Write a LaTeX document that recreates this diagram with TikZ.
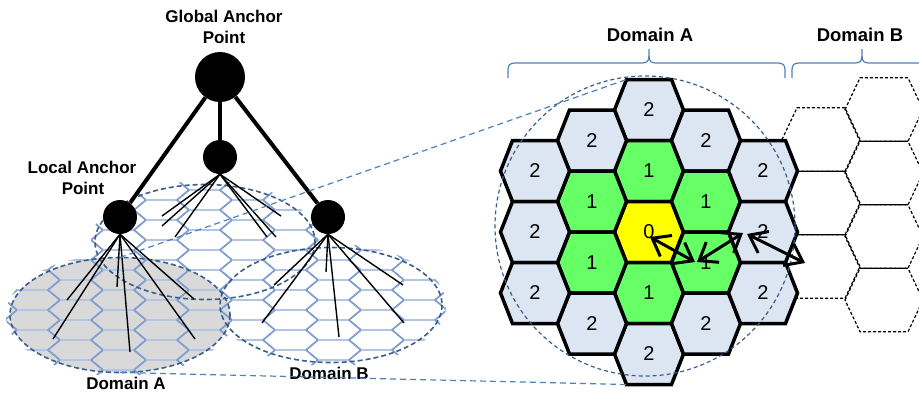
\documentclass[tikz,border=0pt]{standalone}
\usepackage{fontspec}
\setmainfont{Liberation Sans}
\usetikzlibrary{arrows.meta}

\definecolor{cellblue}{RGB}{220,230,242}
\definecolor{cellgreen}{RGB}{102,255,102}
\definecolor{cellyellow}{RGB}{255,255,0}
\definecolor{meshblue}{RGB}{128,158,208}
\definecolor{meshpale}{RGB}{178,198,228}
\definecolor{rimblue}{RGB}{58,94,140}
\definecolor{guideblue}{RGB}{79,129,189}
\definecolor{zonegray}{RGB}{217,217,217}

\begin{document}
\begin{tikzpicture}[x=1pt,y=-1pt,
  mesh/.style={meshblue,line width=1.5pt,line join=round},
  meshflat/.style={meshpale,line width=1.1pt},
  zonerim/.style={rimblue,line width=1.6pt,dash pattern=on 5pt off 3pt},
  guide/.style={guideblue,line width=1.2pt,dash pattern=on 6pt off 4pt},
  trunk/.style={line width=4pt},
  fan/.style={line width=1.4pt},
  anchorpt/.style={circle,fill=black,inner sep=0pt,minimum size=34pt},
  label/.style={inner sep=0pt,anchor=base,font=\fontsize{17}{20}\selectfont\bfseries},
  biglabel/.style={inner sep=0pt,anchor=base,font=\fontsize{18.5}{22}\selectfont\bfseries},
  cellrim/.style={line width=3.5pt},
  celltext/.style={inner sep=0pt,font=\fontsize{20}{24}\selectfont},
  ghostrim/.style={line width=1.2pt,dash pattern=on 3pt off 2pt},
  barb/.tip={Straight Barb[length=16pt,width=24pt,line width=3pt]},
  reach/.style={line width=3pt,barb-barb},
  brace/.style={guideblue,line width=1.2pt},
  pics/cell/.style={code={
    \draw[cellrim,fill=#1] (-34.5,0) -- (-22.5,-30.5) -- (22.5,-30.5) -- (34.5,0)
      -- (22.5,30.5) -- (-22.5,30.5) -- cycle;}},
  pics/ghostcell/.style={code={
    \draw[ghostrim] (-39,0) -- (-24,-31.7) -- (24,-31.7) -- (39,0)
      -- (24,31.7) -- (-24,31.7) -- cycle;}}
]
\useasboundingbox (0,0) rectangle (919,392);
\clip (0,0) rectangle (919,392);

% ---------------- hierarchy of anchor points ----------------
% shaded domain A
\fill[zonegray] (120,315) ellipse [x radius=110, y radius=57.5];

% cell mesh inside the three domains: pale flat edges, stronger slanted edges
\begin{scope}
  \clip (205,242) ellipse [x radius=114, y radius=61]
        (120,315) ellipse [x radius=114, y radius=61]
        (331,305) ellipse [x radius=115, y radius=61];
  \foreach \k in {-5,...,6}{
    \foreach \j in {-3,...,8}{
      \pgfmathsetmacro\cx{204.5+43*\k}
      \pgfmathsetmacro\cy{220+20*\j+10*mod(\k+6,2)}
      \draw[meshflat] ({\cx-15.5},{\cy-10}) -- ({\cx+15.5},{\cy-10});
      \draw[mesh] ({\cx+15.5},{\cy-10}) -- ({\cx+27.5},\cy) -- ({\cx+15.5},{\cy+10});
      \draw[mesh] ({\cx-15.5},{\cy-10}) -- ({\cx-27.5},\cy) -- ({\cx-15.5},{\cy+10});
    }}
\end{scope}

% domain outlines
\draw[zonerim] (205,242) ellipse [x radius=110, y radius=57.5];
\draw[zonerim] (120,315) ellipse [x radius=110, y radius=57.5];
\draw[zonerim] (331,305) ellipse [x radius=111, y radius=57.5];

% anchor points
\node[circle,fill=black,inner sep=0pt,minimum size=50pt] (gap) at (220,77) {};
\node[anchorpt] (mid) at (220,157) {};
\node[anchorpt] (lap) at (120,217) {};
\node[anchorpt] (rap) at (328,217) {};

\draw[trunk] (gap) -- (lap);
\draw[trunk] (gap) -- (mid);
\draw[trunk] (gap) -- (rap);

% links from each anchor to its cells
\coordinate (l1) at (67,300);  \coordinate (l2) at (53,339);
\coordinate (l3) at (117,287); \coordinate (l4) at (130,352);
\coordinate (l5) at (195,339); \coordinate (l6) at (194,299);
\foreach \e in {l1,l2,l3,l4,l5,l6} \draw[fan] (lap.south) -- (\e);

\coordinate (m1) at (162,216); \coordinate (m2) at (162,226);
\coordinate (m3) at (175,237); \coordinate (m4) at (267,237);
\coordinate (m5) at (276,237); \coordinate (m6) at (281,216);
\foreach \e in {m1,m2,m3,m4,m5,m6} \draw[fan] (mid.south) -- (\e);

\coordinate (r1) at (274,285); \coordinate (r2) at (262,323);
\coordinate (r3) at (326,272); \coordinate (r4) at (339,337);
\coordinate (r5) at (403,285); \coordinate (r6) at (404,323);
\foreach \e in {r1,r2,r3,r4,r5,r6} \draw[fan] (rap.south) -- (\e);

% labels
\node[label] (gl1) at (224,22) {Global Anchor};
\node[label] (gl2) at (224,43) {Point};
\node[label] (ll1) at (82,173) {Local Anchor};
\node[label] (ll2) at (83,194) {Point};
\node[label] (dal) at (126,389) {Domain A};
\node[label] (dbl) at (329,379) {Domain B};

% ---------------- cell rings of domain A ----------------
% neighbouring domain B cells
\foreach \x/\y in {821/139.5,821/203,821/266.5,884/109.5,884/173,884/236.5,884/300}
  \pic at (\x,\y) {ghostcell};

\foreach \x/\y/\f/\t/\n in {
  649/110/cellblue/2/c1, 649/171/cellgreen/1/c2, 649/232/cellyellow/0/c0,
  649/293/cellgreen/1/c4, 649/354/cellblue/2/c5,
  592/140.5/cellblue/2/c6, 592/201.5/cellgreen/1/c7, 592/262.5/cellgreen/1/c8, 592/323.5/cellblue/2/c9,
  706/140.5/cellblue/2/c10, 706/201.5/cellgreen/1/c11, 706/262.5/cellgreen/1/c12, 706/323.5/cellblue/2/c13,
  535/171/cellblue/2/c14, 535/232/cellblue/2/c15, 535/293/cellblue/2/c16,
  763/171/cellblue/2/c17, 763/232/cellblue/2/c18, 763/293/cellblue/2/c19}{
  \pic at (\x,\y) {cell=\f};
  \node[celltext] (\n) at (\x,\y) {\t};
}

% zoom guides from domain A to the ring view
\coordinate (ztop) at (626.5,79.5);
\coordinate (zbot) at (626.5,384.5);
\draw[guide] (120,257.5) -- (ztop);
\draw[guide] (120,372.5) -- (zbot);

% coverage circle
\draw[rimblue,line width=1.2pt,dash pattern=on 4pt off 3pt] (645,226) circle [radius=150];

% hops
\coordinate (h0) at (650,237);
\coordinate (h1) at (695,262);
\coordinate (h1b) at (697,262);
\coordinate (h2) at (743,233);
\coordinate (h2b) at (747,234);
\coordinate (h3) at (805,263);
\draw[reach] (h0) -- (h1);
\draw[reach] (h1b) -- (h2);
\draw[reach] (h2b) -- (h3);

% braces
\draw[brace] (508,78) -- (508,70) .. controls (508,65) and (510,63) .. (515,63)
  -- (642,63) .. controls (647,63) and (649,61) .. (649,56) -- (649,49);
\draw[brace] (649,56) .. controls (649,61) and (651,63) .. (656,63)
  -- (778,63) .. controls (783,63) and (785,65) .. (785,70) -- (785,78);
\draw[brace] (792,78) -- (792,70) .. controls (792,65) and (794,63) .. (799,63)
  -- (855,63) .. controls (860,63) and (862,61) .. (862,56) -- (862,49);
\draw[brace] (862,56) .. controls (862,61) and (864,63) .. (869,63)
  -- (925,63) .. controls (930,63) and (932,65) .. (932,70) -- (932,78);

\node[biglabel] (dah) at (650,41) {Domain A};
\node[biglabel] (dbh) at (860,41) {Domain B};
\end{tikzpicture}
\end{document}
